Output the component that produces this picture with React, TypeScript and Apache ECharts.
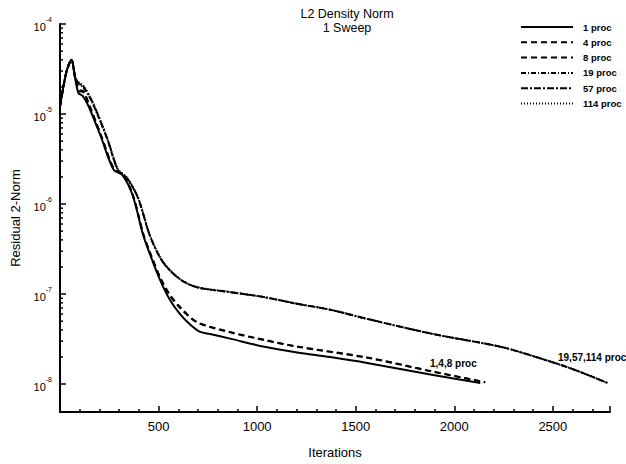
import React, { useEffect, useRef } from "react";
import * as echarts from "echarts";

// ---- data ----
const seriesNames = ["1 proc", "4 proc", "8 proc", "19 proc", "57 proc", "114 proc"];
const titleLines = ["L2 Density Norm", "1 Sweep"];

const itersLow = [0, 33, 58, 78, 94, 114, 145, 206, 272, 317, 368, 421, 457, 508, 558, 609, 660, 711, 761, 863, 1030, 1203, 1371, 1558, 1893, 2132];
const normOneProc = [1.22e-5, 2.97e-5, 4.0e-5, 2.4e-5, 1.7e-5, 1.6e-5, 1.22e-5, 5.7e-6, 2.4e-6, 2.1e-6, 1.26e-6, 4.6e-7, 2.75e-7, 1.43e-7, 8.6e-8, 6.0e-8, 4.6e-8, 3.8e-8, 3.6e-8, 3.2e-8, 2.62e-8, 2.25e-8, 2.0e-8, 1.72e-8, 1.26e-8, 1.03e-8];

const itersDash = [0, 33, 58, 78, 96, 118, 148, 208, 274, 320, 370, 423, 459, 510, 558, 609, 695, 863, 1030, 1203, 1558, 1893, 2157];
const normFourProc = [1.22e-5, 2.97e-5, 4.0e-5, 2.45e-5, 1.8e-5, 1.75e-5, 1.25e-5, 5.8e-6, 2.45e-6, 2.1e-6, 1.25e-6, 4.6e-7, 2.8e-7, 1.5e-7, 9.8e-8, 7.2e-8, 4.9e-8, 3.8e-8, 3.13e-8, 2.62e-8, 1.98e-8, 1.38e-8, 1.05e-8];
const normEightProc = [1.22e-5, 2.97e-5, 4.0e-5, 2.45e-5, 1.85e-5, 1.8e-5, 1.28e-5, 5.8e-6, 2.45e-6, 2.1e-6, 1.25e-6, 4.6e-7, 2.8e-7, 1.5e-7, 9.6e-8, 7.0e-8, 4.85e-8, 3.75e-8, 3.1e-8, 2.6e-8, 1.96e-8, 1.37e-8, 1.05e-8];

const itersHigh = [0, 33, 58, 78, 100, 117, 162, 239, 294, 340, 396, 457, 523, 609, 695, 863, 1030, 1203, 1371, 1558, 1893, 2234, 2437, 2604, 2777];
const normNineteenProc = [1.22e-5, 2.97e-5, 4.0e-5, 2.5e-5, 2.1e-5, 2.0e-5, 1.36e-5, 5.3e-6, 2.37e-6, 1.93e-6, 1.16e-6, 4.4e-7, 2.25e-7, 1.46e-7, 1.19e-7, 1.05e-7, 9.3e-8, 7.8e-8, 6.7e-8, 5.3e-8, 3.6e-8, 2.6e-8, 1.93e-8, 1.46e-8, 1.03e-8];
const normFiftySevenProc = [1.22e-5, 2.97e-5, 4.0e-5, 2.5e-5, 2.15e-5, 2.05e-5, 1.4e-5, 5.4e-6, 2.4e-6, 1.95e-6, 1.17e-6, 4.4e-7, 2.25e-7, 1.46e-7, 1.19e-7, 1.05e-7, 9.3e-8, 7.8e-8, 6.7e-8, 5.3e-8, 3.6e-8, 2.6e-8, 1.93e-8, 1.46e-8, 1.03e-8];
const normOneFourteenProc = [1.22e-5, 2.97e-5, 4.0e-5, 2.55e-5, 2.2e-5, 2.1e-5, 1.42e-5, 5.5e-6, 2.45e-6, 1.97e-6, 1.18e-6, 4.5e-7, 2.3e-7, 1.47e-7, 1.2e-7, 1.06e-7, 9.3e-8, 7.8e-8, 6.7e-8, 5.3e-8, 3.6e-8, 2.6e-8, 1.93e-8, 1.46e-8, 1.03e-8];

const minorTickValues = [
  2e-5, 3e-5, 4e-5, 5e-5, 6e-5, 7e-5, 8e-5, 9e-5,
  2e-6, 3e-6, 4e-6, 5e-6, 6e-6, 7e-6, 8e-6, 9e-6,
  2e-7, 3e-7, 4e-7, 5e-7, 6e-7, 7e-7, 8e-7, 9e-7,
  2e-8, 3e-8, 4e-8, 5e-8, 6e-8, 7e-8, 8e-8, 9e-8,
];

const annotationLow = "1,4,8 proc";
const annotationHigh = "19,57,114 proc";

const FONT = "'Liberation Sans', Arial, Helvetica, sans-serif";

function pairs(xs: number[], ys: number[]) {
  return xs.map((x, i) => [x, ys[i]]);
}

export default function App() {
  const ref = useRef<HTMLDivElement>(null);

  useEffect(() => {
    if (!ref.current) return;
    const chart = echarts.init(ref.current, null, { renderer: "svg" });

    const lineBase = (name: string, data: number[][], type: any, width = 1.9) => ({
      name,
      type: "line",
      data,
      symbol: "none",
      showSymbol: false,
      smooth: 0.3,
      lineStyle: { color: "#000", width, type },
      itemStyle: { color: "#000", opacity: 0 },
      z: 3,
    });

    const titleStyle = { fontFamily: FONT, fontSize: 12.5, fill: "#000", align: "center", verticalAlign: "middle" };

    const option: any = {
      animation: false,
      backgroundColor: "#fff",
      textStyle: { fontFamily: FONT },
      grid: { left: 60, right: 16, top: 24, bottom: 48 },
      legend: {
        orient: "vertical",
        left: 520,
        top: 22,
        padding: 0,
        itemWidth: 52,
        itemHeight: 10,
        itemGap: 5.3,
        data: seriesNames,
        itemStyle: { opacity: 0 },
        textStyle: { fontFamily: FONT, fontSize: 9.5, fontWeight: "bold", color: "#000", padding: [0, 0, 0, 5], lineHeight: 10 },
      },
      xAxis: {
        type: "value",
        min: 0,
        max: 2790,
        interval: 500,
        name: "Iterations",
        nameLocation: "middle",
        nameGap: 34,
        nameTextStyle: { fontFamily: FONT, fontSize: 13, color: "#000" },
        axisLine: { show: true, lineStyle: { color: "#000", width: 2 } },
        axisTick: { show: true, inside: true, length: 6, lineStyle: { color: "#000", width: 1.5 } },
        minorTick: { show: true, splitNumber: 5, length: 3, lineStyle: { color: "#000", width: 1.5 } },
        axisLabel: {
          showMinLabel: false,
          showMaxLabel: false,
          margin: 8,
          fontFamily: FONT,
          fontSize: 13,
          color: "#000",
          formatter: (v: number) => String(v),
        },
        splitLine: { show: false },
      },
      yAxis: {
        type: "log",
        logBase: 10,
        min: 4.9e-9,
        max: 1e-4,
        name: "Residual 2-Norm",
        nameLocation: "middle",
        nameGap: 38,
        nameRotate: 90,
        nameTextStyle: { fontFamily: FONT, fontSize: 13, color: "#000" },
        axisLine: { show: true, lineStyle: { color: "#000", width: 2 } },
        axisTick: { show: true, inside: true, length: 6, lineStyle: { color: "#000", width: 1.5 } },
        axisLabel: {
          showMinLabel: false,
          margin: 8,
          color: "#000",
          formatter: (v: number) => `{b|10}{s|${Math.round(Math.log10(v))}}`,
          rich: {
            b: { fontFamily: FONT, fontSize: 11, color: "#000", verticalAlign: "bottom", lineHeight: 16 },
            s: { fontFamily: FONT, fontSize: 7, color: "#000", verticalAlign: "top", lineHeight: 16 },
          },
        },
        splitLine: { show: false },
      },
      graphic: [
        { type: "text", x: 347, y: 14, style: { ...titleStyle, text: titleLines[0] } },
        { type: "text", x: 347, y: 28, style: { ...titleStyle, text: titleLines[1] } },
        {
          type: "text",
          left: 430,
          top: 358,
          style: { text: annotationLow, fontFamily: FONT, fontSize: 10, fontWeight: "bold", fill: "#000" },
        },
        {
          type: "text",
          left: 558,
          top: 352,
          style: { text: annotationHigh, fontFamily: FONT, fontSize: 10, fontWeight: "bold", fill: "#000" },
        },
      ],
      series: [
        lineBase(seriesNames[0], pairs(itersLow, normOneProc), "solid", 2),
        lineBase(seriesNames[1], pairs(itersDash, normFourProc), [6, 4]),
        lineBase(seriesNames[2], pairs(itersDash, normEightProc), [6, 4]),
        lineBase(seriesNames[3], pairs(itersHigh, normNineteenProc), [5, 2, 1, 2]),
        lineBase(seriesNames[4], pairs(itersHigh, normFiftySevenProc), [7, 2, 2, 2]),
        lineBase(seriesNames[5], pairs(itersHigh, normOneFourteenProc), [1, 2]),
        {
          name: "minorTicks",
          type: "custom",
          data: minorTickValues.map((v) => [0, v]),
          silent: true,
          z: 5,
          renderItem: (params: any, api: any) => {
            const p = api.coord([0, api.value(1)]);
            return {
              type: "line",
              shape: { x1: p[0], y1: p[1], x2: p[0] + 3, y2: p[1] },
              style: { stroke: "#000", lineWidth: 1.5 },
            };
          },
        },
      ],
    };

    chart.setOption(option);
    return () => chart.dispose();
  }, []);

  return (
    <div
      ref={ref}
      style={{ position: "fixed", left: 0, top: 0, width: 626, height: 464, background: "#fff" }}
    />
  );
}
